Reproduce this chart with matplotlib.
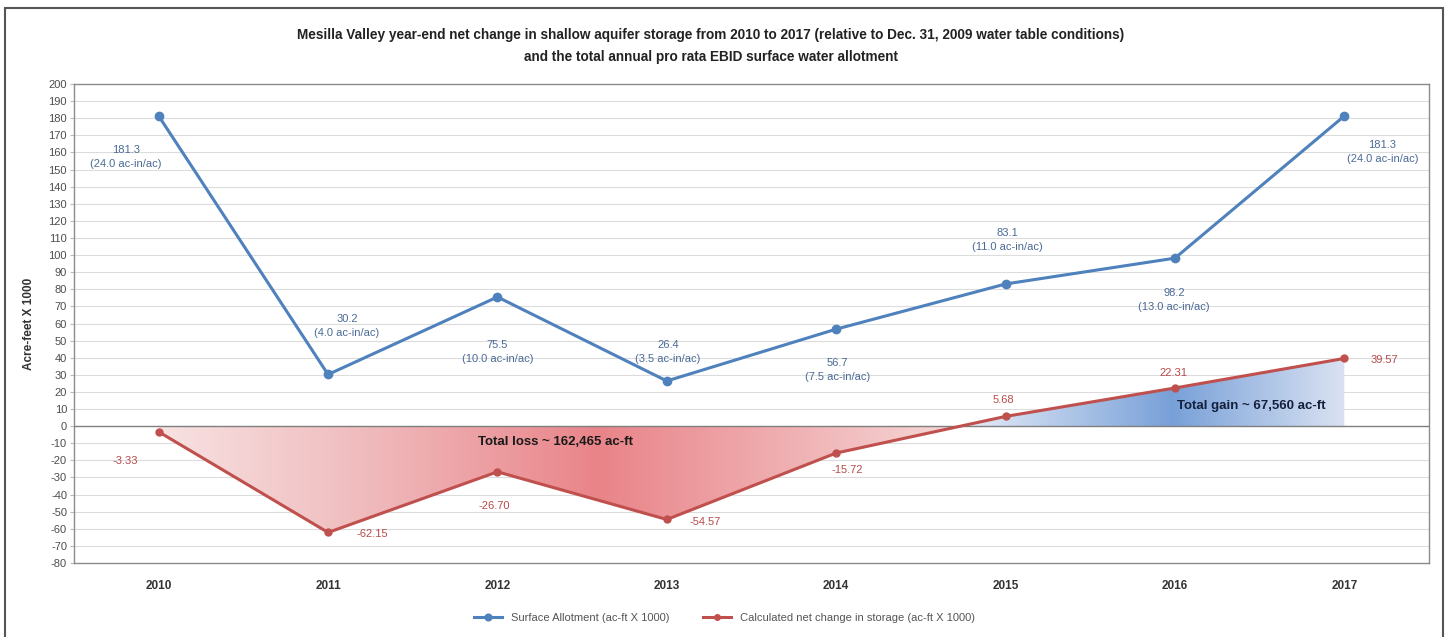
import numpy as np
import matplotlib
matplotlib.use("Agg")
import matplotlib.pyplot as plt
from matplotlib.patches import Rectangle
from matplotlib.colors import LinearSegmentedColormap

plt.rcParams['font.family'] = ['Liberation Sans Narrow', 'Liberation Sans', 'DejaVu Sans']
plt.rcParams['axes.unicode_minus'] = False

# ---------------- data ----------------
years = ["2010", "2011", "2012", "2013", "2014", "2015", "2016", "2017"]
allotment = [181.3, 30.2, 75.5, 26.4, 56.7, 83.1, 98.2, 181.3]
allotment_acin = ["24.0", "4.0", "10.0", "3.5", "7.5", "11.0", "13.0", "24.0"]
storage = [-3.33, -62.15, -26.70, -54.57, -15.72, 5.68, 22.31, 39.57]
loss_text = "Total loss ~ 162,465 ac-ft"
gain_text = "Total gain ~ 67,560 ac-ft"
title = ("Mesilla Valley year-end net change in shallow aquifer storage from 2010 to 2017 "
         "(relative to Dec. 31, 2009 water table conditions)\n"
         "and the total annual pro rata EBID surface water allotment")
series_names = ["Surface Allotment (ac-ft X 1000)",
                "Calculated net change in storage (ac-ft X 1000)"]

# ---------------- styles ----------------
BLUE = "#4F81BD"
RED = "#C0504D"
BLUE_TXT = "#4a6a96"
RED_TXT = "#b84a4a"
blue_offsets = [(-33, -41), (19, 48), (0, -55), (1, 29), (1, -41), (2, 44), (-1, -42), (38, -36)]
red_offsets = [(-33, -29), (44, -2), (-3, -34), (38, -3), (11, -17), (-2, 16), (-1, 15), (40, -2)]

W, H = 1449, 637
fig = plt.figure(figsize=(W / 100, H / 100), dpi=100)
fig.patch.set_facecolor("white")
ax = fig.add_axes([74 / W, 1 - 563 / H, (1429 - 74) / W, (563 - 84) / H])

x = np.arange(len(years))
ya = np.array(allotment)
ys = np.array(storage)

ax.set_xlim(-0.5, len(years) - 0.5)
ax.set_ylim(-80, 200)

# grid
for v in range(-80, 201, 10):
    if v == 0:
        continue
    ax.axhline(v, color="#dcdcdc", lw=0.8, zorder=0)
ax.axhline(0, color="#7f7f7f", lw=1.0, zorder=3)

# gradient fills clipped to regions between storage line and zero
def gradient_fill(where, xrange_, stops, colors):
    coll = ax.fill_between(x, ys, 0, where=where, interpolate=True,
                           facecolor="none", edgecolor="none")
    path = coll.get_paths()[0]
    cmap = LinearSegmentedColormap.from_list(
        "g", list(zip(stops, [tuple(c / 255 for c in col) for col in colors])))
    grad = np.linspace(0, 1, 600).reshape(1, -1)
    im = ax.imshow(grad, extent=[xrange_[0], xrange_[1], -80, 200], aspect="auto",
                   cmap=cmap, origin="lower", zorder=1, interpolation="bilinear")
    im.set_clip_path(path, transform=ax.transData)

xc = 4 + (0 - storage[4]) / (storage[5] - storage[4])

gradient_fill(ys <= 0, (0, xc), [0.0, 0.25, 0.55, 1.0],
              [(248, 226, 226), (240, 188, 190), (233, 132, 137), (246, 216, 216)])
gradient_fill(ys >= 0, (xc, 7), [0.0, 0.55, 1.0],
              [(232, 238, 248), (120, 160, 216), (218, 226, 242)])

# lines
l1, = ax.plot(x, ya, color=BLUE, lw=2.2, marker="o", ms=6, zorder=5,
              label=series_names[0])
l2, = ax.plot(x, ys, color=RED, lw=2.2, marker="o", ms=5, zorder=5,
              label=series_names[1])

for i in range(len(years)):
    ax.annotate(f"{allotment[i]:.1f}\n({allotment_acin[i]} ac-in/ac)",
                (x[i], ya[i]), xytext=blue_offsets[i], textcoords="offset pixels",
                ha="center", va="center", fontsize=8, color=BLUE_TXT,
                linespacing=1.5, zorder=6)
    ax.annotate(f"{storage[i]:.2f}", (x[i], ys[i]), xytext=red_offsets[i],
                textcoords="offset pixels", ha="center", va="center",
                fontsize=8, color=RED_TXT, zorder=6)

ax.text(2.34, -9.4, loss_text, ha="center", va="center", fontsize=9.5,
        fontweight="bold", color="#1a1a1a", zorder=6)
ax.text(6.45, 12, gain_text, ha="center", va="center", fontsize=9.5,
        fontweight="bold", color="#14213d", zorder=6)

# axes styling
ax.set_xticks(x)
ax.set_xticklabels(years, fontweight="bold", fontsize=8.5, color="#333333")
ax.tick_params(axis="x", length=0, pad=12)
ax.set_yticks(range(-80, 201, 10))
ax.tick_params(axis="y", labelsize=8, colors="#4d4d4d", length=3, color="#bbbbbb", pad=2)
for s in ax.spines.values():
    s.set_color("#8c8c8c")
    s.set_linewidth(1.0)
ax.set_ylabel("Acre-feet X 1000", fontsize=8.5, fontweight="bold", color="#333333",
              labelpad=10)

fig.text(711 / W, 1 - 46 / H, title, ha="center", va="center", fontsize=9.8,
         fontweight="bold", color="#222222", linespacing=1.7)

fig.legend(handles=[l1, l2], labels=series_names, loc="center",
           bbox_to_anchor=(0.5, 1 - 618 / H), ncol=2, frameon=False, fontsize=8,
           labelcolor="#555555", handlelength=2.5, columnspacing=3, markerscale=0.8)

fig.add_artist(Rectangle((5 / W, -0.02), (1443 - 5) / W, 1.02 - 8 / H,
                         transform=fig.transFigure, fill=False,
                         edgecolor="#555555", lw=1.5))

fig.savefig("out.png", dpi=100)
